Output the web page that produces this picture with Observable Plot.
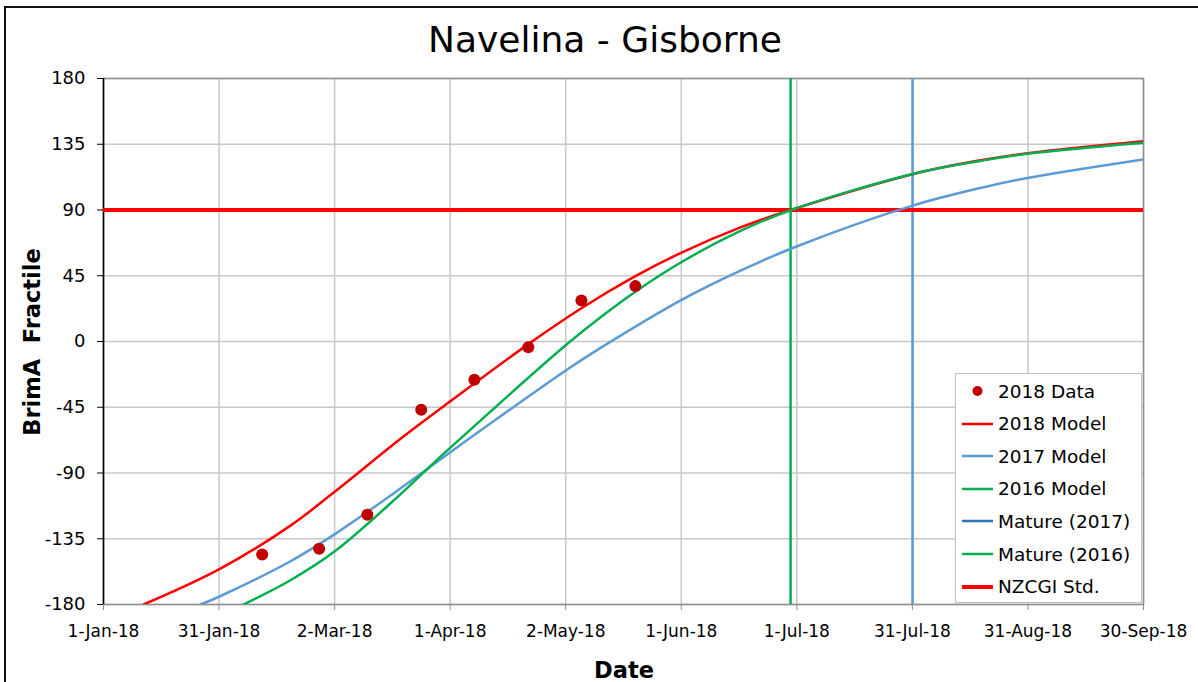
<!DOCTYPE html>
<html>
<head>
<meta charset="utf-8">
<script src="https://cdn.jsdelivr.net/npm/d3@7"></script>
<script src="https://cdn.jsdelivr.net/npm/@observablehq/plot@0.6"></script>
<style>
  html, body { margin: 0; padding: 0; background: #fff; }
  body { font-family: "DejaVu Sans", Verdana, sans-serif; color: #000; }
  #wrap { position: relative; width: 1198px; height: 682px; overflow: hidden; background: #fff; }
  #border { position: absolute; left: 4px; top: 6px; width: 1400px; height: 900px; border: 2px solid #111; box-sizing: border-box; }
  #chart { position: absolute; left: 0; top: 0; }
  #title { position: absolute; left: 0; width: 1210px; top: 22px; text-align: center; font-size: 36px; line-height: 36px; white-space: pre; }
  #ylabel { position: absolute; left: 32px; top: 342px; transform: translate(-50%, -50%) rotate(-90deg); font-size: 22.5px; font-weight: bold; line-height: 22px; white-space: pre; }
  #xlabel { position: absolute; left: 624px; top: 659px; transform: translateX(-50%); font-size: 22.5px; font-weight: bold; line-height: 22px; white-space: pre; }
  #legend { position: absolute; left: 955px; top: 373px; width: 187px; height: 230px; border: 1px solid #c0c0c0; background: #fff; box-sizing: border-box; }
  .lrow { position: absolute; left: 5px; height: 32px; display: flex; align-items: center; font-size: 18.5px; white-space: pre; }
  .lrow svg { margin-right: 4px; }
</style>
</head>
<body>
<div id="wrap">
  <div id="border"></div>
  <div id="chart"></div>
  <div id="title"></div>
  <div id="ylabel"></div>
  <div id="xlabel"></div>
  <div id="legend"></div>
</div>
<script>
// ---- Text ----
const titleText = "Navelina - Gisborne";
const xLabelText = "Date";
const yLabelText = "BrimA  Fractile";

// ---- Axes (x = days since 1-Jan-18) ----
const xTickLabels = ["1-Jan-18", "31-Jan-18", "2-Mar-18", "1-Apr-18", "2-May-18", "1-Jun-18", "1-Jul-18", "31-Jul-18", "31-Aug-18", "30-Sep-18"];
const xSpanDays = 272;
const yTicks = [-180, -135, -90, -45, 0, 45, 90, 135, 180];

// ---- 2018 measured data ----
const data2018Days = [41.5, 56.4, 69.0, 83.1, 97.0, 111.1, 125.0, 139.1];
const data2018Values = [-145.8, -141.9, -118.6, -46.7, -26.2, -3.9, 28.1, 37.9];

// ---- Model curves ----
const model2018Days = [10.5, 30.2, 48.9, 60.2, 77.7, 90.8, 111.1, 125.0, 139.1, 151.2, 166.6, 179.7, 211.6, 229.4, 241.7, 272];
const model2018Values = [-180, -156, -126, -103.4, -66.6, -40.8, -1.8, 22.8, 44.7, 60.9, 78.1, 90, 114.5, 124, 128.9, 137.1];

const model2017Days = [25.4, 30.2, 48.9, 60.4, 77.7, 84.7, 90.8, 121.1, 130.0, 151.2, 166.6, 181.4, 211.6, 229.4, 241.7, 272];
const model2017Values = [-180, -174.7, -150.4, -132.0, -100.5, -87.2, -75.6, -19.5, -4.4, 28.5, 48.5, 65.2, 93.0, 105.1, 111.9, 124.6];

const model2016Days = [36.6, 48.9, 60.4, 77.7, 84.7, 90.8, 121.1, 130.0, 139.1, 151.2, 166.6, 179.7, 211.6, 229.4, 241.7, 272];
const model2016Values = [-180, -163.4, -143.8, -104.5, -87.2, -72.5, -2.1, 16.6, 34.1, 54.4, 75.7, 89.8, 114.7, 123.6, 128.5, 136.1];

// ---- Reference lines ----
const mature2016Day = 179.7;
const mature2017Day = 211.6;
const nzcgiStd = 90;

// ---- Legend ----
const legendLabels = ["2018 Data", "2018 Model", "2017 Model", "2016 Model", "Mature (2017)", "Mature (2016)", "NZCGI Std."];
const legendKinds = ["dot", "line", "line", "line", "line", "line", "thick"];
const legendColors = ["#C00000", "#FF0000", "#5B9BD5", "#00B050", "#2E75B6", "#00B050", "#FF0000"];

// Build tables
const xTicks = xTickLabels.map((_, i) => i * xSpanDays / (xTickLabels.length - 1));
const toRows = (days, vals) => days.map((d, i) => ({day: d, value: vals[i]}));
const dataRows = toRows(data2018Days, data2018Values);
const m2018 = toRows(model2018Days, model2018Values);
const m2017 = toRows(model2017Days, model2017Values);
const m2016 = toRows(model2016Days, model2016Values);

const chart = Plot.plot({
  width: 1198,
  height: 682,
  marginLeft: 103,
  marginRight: 55,
  marginTop: 78,
  marginBottom: 78,
  style: {fontFamily: '"DejaVu Sans", Verdana, sans-serif', fontSize: "17px", color: "#000", background: "transparent", overflow: "visible"},
  x: {domain: [0, xSpanDays], label: null},
  y: {domain: [-180, 180], label: null},
  marks: [
    Plot.gridX(xTicks, {stroke: "#c8c8c8", strokeOpacity: 1, strokeWidth: 1.5}),
    Plot.gridY(yTicks, {stroke: "#c8c8c8", strokeOpacity: 1, strokeWidth: 1.5}),
    Plot.frame({stroke: "#8f8f8f", strokeWidth: 1.5}),
    Plot.axisX(xTicks, {tickSize: 6, tickPadding: 14, stroke: "#8f8f8f", fontSize: 17, tickFormat: d => xTickLabels[xTicks.indexOf(d)], label: null}),
    Plot.axisY(yTicks, {tickSize: 6, tickPadding: 12, stroke: "#000", fontSize: 18, tickFormat: d => String(d), label: null}),
    Plot.ruleX([0], {stroke: "#000", strokeWidth: 1.5}),
    Plot.ruleX([mature2016Day], {stroke: "#00B050", strokeWidth: 2.5}),
    Plot.ruleX([mature2017Day], {stroke: "#5B9BD5", strokeWidth: 2.5}),
    Plot.ruleY([nzcgiStd], {stroke: "#FF0000", strokeWidth: 4}),
    Plot.line(m2017, {x: "day", y: "value", stroke: "#5B9BD5", strokeWidth: 2.5, curve: "catmull-rom", clip: true}),
    Plot.line(m2018, {x: "day", y: "value", stroke: "#FF0000", strokeWidth: 2.5, curve: "catmull-rom", clip: true}),
    Plot.line(m2016, {x: "day", y: "value", stroke: "#00B050", strokeWidth: 2.5, curve: "catmull-rom", clip: true}),
    Plot.dot(dataRows, {x: "day", y: "value", r: 6, fill: "#C00000", stroke: "none"})
  ]
});
document.getElementById("chart").appendChild(chart);

document.getElementById("title").textContent = titleText;
document.getElementById("xlabel").textContent = xLabelText;
document.getElementById("ylabel").textContent = yLabelText;

const legend = document.getElementById("legend");
legendLabels.forEach((label, i) => {
  const row = document.createElement("div");
  row.className = "lrow";
  row.style.top = (1 + i * 32.6) + "px";
  const kind = legendKinds[i];
  const c = legendColors[i];
  let sw;
  if (kind === "dot") {
    sw = `<svg width="33" height="12"><circle cx="16.5" cy="6" r="5" fill="${c}"/></svg>`;
  } else {
    const w = kind === "thick" ? 4 : 2.5;
    sw = `<svg width="33" height="12"><line x1="1" x2="32" y1="6" y2="6" stroke="${c}" stroke-width="${w}"/></svg>`;
  }
  row.innerHTML = sw + `<span>${label}</span>`;
  legend.appendChild(row);
});
</script>
</body>
</html>
